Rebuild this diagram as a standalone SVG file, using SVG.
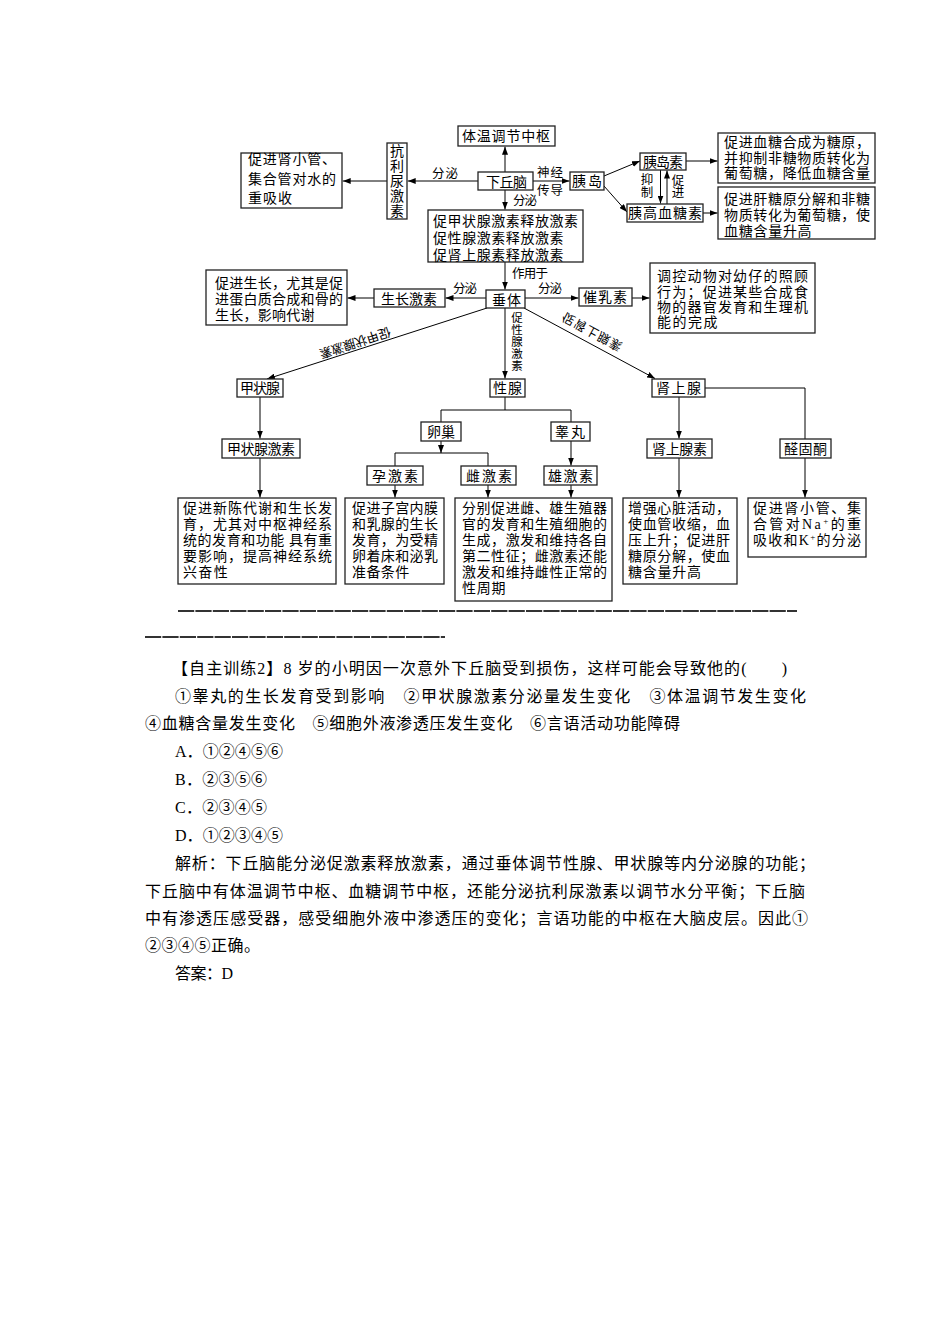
<svg xmlns="http://www.w3.org/2000/svg" width="950" height="1344" viewBox="0 0 950 1344">
<style>
text{font-family:"Liberation Serif","Noto Sans CJK SC",serif;fill:#000}
.t{font-size:14px}
.s{font-size:12.5px}
.v{font-size:11.5px}
.p{font-size:16px}
.q{font-family:"Noto Sans CJK SC",sans-serif}
.b{fill:#fff;stroke:#222;stroke-width:1.3}
.c{fill:none;stroke:#000;stroke-width:1}
.m{text-anchor:middle}
.u{stroke:#333;stroke-width:2;stroke-dasharray:16.2 1.2}
</style>
<defs>
<marker id="a" markerWidth="8" markerHeight="6" refX="8" refY="3" orient="auto" markerUnits="userSpaceOnUse"><path d="M0,0 L8,3 L0,6 z" fill="#000"/></marker>
</defs>
<rect width="950" height="1344" fill="#fff"/>

<g id="connectors">
<path class="c" marker-end="url(#a)" d="M505,172 V146.7"/>
<path class="c" marker-end="url(#a)" d="M478,181 H407.7"/>
<path class="c" marker-end="url(#a)" d="M387,181 H342.7"/>
<path class="c" marker-end="url(#a)" d="M505,190 V209.5"/>
<path class="c" marker-end="url(#a)" d="M533,181 H569.5"/>
<path class="c" marker-end="url(#a)" d="M604,176 L640,161"/>
<path class="c" marker-end="url(#a)" d="M604,186 L627,212"/>
<path class="c" marker-end="url(#a)" d="M660.5,170 V203.5"/>
<path class="c" marker-end="url(#a)" d="M667,204 V170.5"/>
<path class="c" marker-end="url(#a)" d="M686,161 H717.5"/>
<path class="c" marker-end="url(#a)" d="M703,213 H717.5"/>
<path class="c" marker-end="url(#a)" d="M505,262 V289.5"/>
<path class="c" marker-end="url(#a)" d="M486,298 H445.5"/>
<path class="c" marker-end="url(#a)" d="M374,298 H347.5"/>
<path class="c" marker-end="url(#a)" d="M525,298 H578.5"/>
<path class="c" marker-end="url(#a)" d="M632,298 H649.5"/>
<path class="c" marker-end="url(#a)" d="M487,308 L267,379"/>
<path class="c" marker-end="url(#a)" d="M505,308 V378.5"/>
<path class="c" marker-end="url(#a)" d="M524,308 L655,378.5"/>
<path class="c" marker-end="url(#a)" d="M260,397 V438.5"/>
<path class="c" marker-end="url(#a)" d="M260,458 V497.5"/>
<path class="c" d="M505,397 V410 M441,422 V410 H571 V422"/>
<path class="c" marker-end="url(#a)" d="M441,441 V453"/>
<path class="c" d="M395,466 V453 H488 V466"/>
<path class="c" marker-end="url(#a)" d="M571,441 V465.5"/>
<path class="c" marker-end="url(#a)" d="M395,485 V497.5"/>
<path class="c" marker-end="url(#a)" d="M488,485 V497.5"/>
<path class="c" marker-end="url(#a)" d="M571,485 V497.5"/>
<path class="c" marker-end="url(#a)" d="M679,397 V438.5"/>
<path class="c" marker-end="url(#a)" d="M679,458 V497.5"/>
<path class="c" d="M705,388 H805 V439"/>
<path class="c" marker-end="url(#a)" d="M805,458 V497.5"/>
<text class="s" x="432" y="178" textLength="26" lengthAdjust="spacing">分泌</text>
<text class="s" x="513" y="205" textLength="24" lengthAdjust="spacing">分泌</text>
<text class="s" x="537" y="177" textLength="26" lengthAdjust="spacing">神经</text>
<text class="s" x="537" y="195" textLength="26" lengthAdjust="spacing">传导</text>
<text class="s m" x="647" y="184">抑</text>
<text class="s m" x="647" y="197">制</text>
<text class="s m" x="678" y="185">促</text>
<text class="s m" x="678" y="197">进</text>
<text class="s" x="512" y="278" textLength="36" lengthAdjust="spacing">作用于</text>
<text class="s" x="453" y="293" textLength="24" lengthAdjust="spacing">分泌</text>
<text class="s" x="538" y="293" textLength="24" lengthAdjust="spacing">分泌</text>
<text class="v m" x="517" y="322">促</text>
<text class="v m" x="517" y="334">性</text>
<text class="v m" x="517" y="346">腺</text>
<text class="v m" x="517" y="358">激</text>
<text class="v m" x="517" y="370">素</text>
<text class="s m" transform="translate(355,343) rotate(161.6)" y="4.6" textLength="74" lengthAdjust="spacing">促甲状腺激素</text>
<text class="s m" transform="translate(592,332) rotate(28.7) scale(1,-1)" y="4.6" textLength="66" lengthAdjust="spacing">促肾上腺素</text>
</g>

<g id="n-tiwen"><rect class="b" x="458" y="126" width="97" height="20"/><text class="t" x="462" y="141" textLength="88" lengthAdjust="spacing">体温调节中枢</text></g>
<g id="n-xiaqiunao"><rect class="b" x="478" y="172" width="55" height="18"/><text class="t" x="486" y="186.5" textLength="41" lengthAdjust="spacing">下丘脑</text></g>
<g id="n-kangliniao"><rect class="b" x="387" y="143" width="20" height="76"/>
<text class="t m" x="397" y="156">抗</text><text class="t m" x="397" y="171">利</text><text class="t m" x="397" y="186">尿</text><text class="t m" x="397" y="201">激</text><text class="t m" x="397" y="216">素</text></g>
<g id="n-shuifen"><rect class="b" x="241" y="153" width="101" height="55"/>
<text class="t" x="248" y="164" textLength="88" lengthAdjust="spacing">促进肾小管、</text>
<text class="t" x="248" y="183.5" textLength="88" lengthAdjust="spacing">集合管对水的</text>
<text class="t" x="248" y="203" textLength="44" lengthAdjust="spacing">重吸收</text></g>
<g id="n-yidao"><rect class="b" x="570" y="172" width="34" height="18"/><text class="t" x="572" y="185.5" textLength="30" lengthAdjust="spacing">胰岛</text></g>
<g id="n-yidaosu"><rect class="b" x="640" y="153" width="46" height="17"/><text class="t" x="643" y="166.5" textLength="40" lengthAdjust="spacing">胰岛素</text></g>
<g id="n-yigaoxuetangsu"><rect class="b" x="627" y="204" width="76" height="18"/><text class="t" x="628" y="218" textLength="74" lengthAdjust="spacing">胰高血糖素</text></g>
<g id="n-jiangtang"><rect class="b" x="718" y="133" width="157" height="50"/>
<text class="t" x="724" y="147" textLength="146" lengthAdjust="spacing">促进血糖合成为糖原，</text>
<text class="t" x="724" y="162.5" textLength="146" lengthAdjust="spacing">并抑制非糖物质转化为</text>
<text class="t" x="724" y="178" textLength="146" lengthAdjust="spacing">葡萄糖，降低血糖含量</text></g>
<g id="n-shengtang"><rect class="b" x="718" y="187" width="157" height="52"/>
<text class="t" x="724" y="203.5" textLength="146" lengthAdjust="spacing">促进肝糖原分解和非糖</text>
<text class="t" x="724" y="219.5" textLength="146" lengthAdjust="spacing">物质转化为葡萄糖，使</text>
<text class="t" x="724" y="235.5" textLength="87.6" lengthAdjust="spacing">血糖含量升高</text></g>
<g id="n-shifang"><rect class="b" x="428" y="210" width="155" height="52"/>
<text class="t" x="433" y="225.5" textLength="145" lengthAdjust="spacing">促甲状腺激素释放激素</text>
<text class="t" x="433" y="243" textLength="130.5" lengthAdjust="spacing">促性腺激素释放激素</text>
<text class="t" x="433" y="259.5" textLength="130.5" lengthAdjust="spacing">促肾上腺素释放激素</text></g>
<g id="n-chuiti"><rect class="b" x="486" y="290" width="39" height="18"/><text class="t" x="492" y="304.5" textLength="29" lengthAdjust="spacing">垂体</text></g>
<g id="n-shengzhang"><rect class="b" x="374" y="289" width="71" height="18"/><text class="t" x="381" y="303.5" textLength="56" lengthAdjust="spacing">生长激素</text></g>
<g id="n-shengzhangzuoyong"><rect class="b" x="206" y="270" width="141" height="55"/>
<text class="t" x="215" y="288" textLength="128" lengthAdjust="spacing">促进生长，尤其是促</text>
<text class="t" x="215" y="304" textLength="128" lengthAdjust="spacing">进蛋白质合成和骨的</text>
<text class="t" x="215" y="320" textLength="99.5" lengthAdjust="spacing">生长，影响代谢</text></g>
<g id="n-cuirusu"><rect class="b" x="579" y="288" width="53" height="18"/><text class="t" x="583" y="302" textLength="44" lengthAdjust="spacing">催乳素</text></g>
<g id="n-cuiruzuoyong"><rect class="b" x="650" y="263" width="165" height="70"/>
<text class="t" x="657" y="281" textLength="151" lengthAdjust="spacing">调控动物对幼仔的照顾</text>
<text class="t" x="657" y="297" textLength="151" lengthAdjust="spacing">行为；促进某些合成食</text>
<text class="t" x="657" y="312" textLength="151" lengthAdjust="spacing">物的器官发育和生理机</text>
<text class="t" x="657" y="327" textLength="60.4" lengthAdjust="spacing">能的完成</text></g>
<g id="n-jiazhuangxian"><rect class="b" x="237" y="379" width="46" height="18"/><text class="t" x="240" y="393" textLength="40" lengthAdjust="spacing">甲状腺</text></g>
<g id="n-xingxian"><rect class="b" x="490" y="379" width="35" height="18"/><text class="t" x="493" y="393" textLength="29" lengthAdjust="spacing">性腺</text></g>
<g id="n-shenshangxian"><rect class="b" x="652" y="379" width="53" height="18"/><text class="t" x="656" y="393" textLength="45" lengthAdjust="spacing">肾上腺</text></g>
<g id="n-luanchao"><rect class="b" x="421" y="422" width="40" height="19"/><text class="t" x="427" y="437" textLength="28" lengthAdjust="spacing">卵巢</text></g>
<g id="n-gaowan"><rect class="b" x="551" y="422" width="39" height="19"/><text class="t" x="555" y="437" textLength="30" lengthAdjust="spacing">睾丸</text></g>
<g id="n-yunjisu"><rect class="b" x="367" y="466" width="56" height="19"/><text class="t" x="372" y="481" textLength="46" lengthAdjust="spacing">孕激素</text></g>
<g id="n-cijisu"><rect class="b" x="461" y="466" width="55" height="19"/><text class="t" x="466" y="481" textLength="46" lengthAdjust="spacing">雌激素</text></g>
<g id="n-xiongjisu"><rect class="b" x="544" y="466" width="53" height="19"/><text class="t" x="548" y="481" textLength="45" lengthAdjust="spacing">雄激素</text></g>
<g id="n-jiazhuangxianjisu"><rect class="b" x="222" y="439" width="78" height="19"/><text class="t" x="227" y="454" textLength="68" lengthAdjust="spacing">甲状腺激素</text></g>
<g id="n-shenshangxiansu"><rect class="b" x="647" y="439" width="65" height="19"/><text class="t" x="652" y="454" textLength="55" lengthAdjust="spacing">肾上腺素</text></g>
<g id="n-quangutong"><rect class="b" x="780" y="439" width="51" height="19"/><text class="t" x="784" y="454" textLength="43" lengthAdjust="spacing">醛固酮</text></g>
<g id="n-jzxjs-zuoyong"><rect class="b" x="178" y="498" width="158" height="86"/>
<text class="t" x="183" y="513" textLength="149" lengthAdjust="spacing">促进新陈代谢和生长发</text>
<text class="t" x="183" y="529" textLength="149" lengthAdjust="spacing">育，尤其对中枢神经系</text>
<text class="t" x="183" y="545" textLength="149" lengthAdjust="spacing">统的发育和功能 具有重</text>
<text class="t" x="183" y="561" textLength="149" lengthAdjust="spacing">要影响，提高神经系统</text>
<text class="t" x="183" y="577" textLength="44.7" lengthAdjust="spacing">兴奋性</text></g>
<g id="n-yunjisu-zuoyong"><rect class="b" x="345" y="498" width="99" height="86"/>
<text class="t" x="352" y="513" textLength="86" lengthAdjust="spacing">促进子宫内膜</text>
<text class="t" x="352" y="529" textLength="86" lengthAdjust="spacing">和乳腺的生长</text>
<text class="t" x="352" y="545" textLength="86" lengthAdjust="spacing">发育，为受精</text>
<text class="t" x="352" y="561" textLength="86" lengthAdjust="spacing">卵着床和泌乳</text>
<text class="t" x="352" y="577" textLength="57.3" lengthAdjust="spacing">准备条件</text></g>
<g id="n-xingjisu-zuoyong"><rect class="b" x="455" y="498" width="157" height="103"/>
<text class="t" x="462" y="513" textLength="145" lengthAdjust="spacing">分别促进雌、雄生殖器</text>
<text class="t" x="462" y="529" textLength="145" lengthAdjust="spacing">官的发育和生殖细胞的</text>
<text class="t" x="462" y="545" textLength="145" lengthAdjust="spacing">生成，激发和维持各自</text>
<text class="t" x="462" y="561" textLength="145" lengthAdjust="spacing">第二性征；雌激素还能</text>
<text class="t" x="462" y="577" textLength="145" lengthAdjust="spacing">激发和维持雌性正常的</text>
<text class="t" x="462" y="593" textLength="43.5" lengthAdjust="spacing">性周期</text></g>
<g id="n-ssxs-zuoyong"><rect class="b" x="623" y="498" width="114" height="86"/>
<text class="t" x="628" y="513" textLength="102" lengthAdjust="spacing">增强心脏活动，</text>
<text class="t" x="628" y="529" textLength="102" lengthAdjust="spacing">使血管收缩，血</text>
<text class="t" x="628" y="545" textLength="102" lengthAdjust="spacing">压上升；促进肝</text>
<text class="t" x="628" y="561" textLength="102" lengthAdjust="spacing">糖原分解，使血</text>
<text class="t" x="628" y="577" textLength="73" lengthAdjust="spacing">糖含量升高</text></g>
<g id="n-qgt-zuoyong"><rect class="b" x="748" y="498" width="118" height="59"/>
<text class="t" x="753" y="513" textLength="108" lengthAdjust="spacing">促进肾小管、集</text>
<text class="t" x="753" y="529" textLength="108" lengthAdjust="spacing">合管对Na<tspan dy="-5" font-size="9">+</tspan><tspan dy="5">的重</tspan></text>
<text class="t" x="753" y="545" textLength="108" lengthAdjust="spacing">吸收和K<tspan dy="-5" font-size="9">+</tspan><tspan dy="5">的分泌</tspan></text></g>

<line class="u" x1="178" y1="611" x2="797" y2="611"/>
<line class="u" x1="145" y1="637" x2="445" y2="637"/>

<g id="question">
<text class="p" x="172" y="674" textLength="615" lengthAdjust="spacing">【自主训练2】8 岁的小明因一次意外下丘脑受到损伤，这样可能会导致他的(　　)</text>
<text class="p q" x="175" y="702" textLength="631" lengthAdjust="spacing">①睾丸的生长发育受到影响　②甲状腺激素分泌量发生变化　③体温调节发生变化</text>
<text class="p q" x="145" y="729" textLength="535" lengthAdjust="spacing">④血糖含量发生变化　⑤细胞外液渗透压发生变化　⑥言语活动功能障碍</text>
<text class="p" x="175" y="757" textLength="108" lengthAdjust="spacing">A．<tspan class="q">①②④⑤⑥</tspan></text>
<text class="p" x="175" y="785" textLength="92" lengthAdjust="spacing">B．<tspan class="q">②③⑤⑥</tspan></text>
<text class="p" x="175" y="813" textLength="92" lengthAdjust="spacing">C．<tspan class="q">②③④⑤</tspan></text>
<text class="p" x="175" y="841" textLength="108" lengthAdjust="spacing">D．<tspan class="q">①②③④⑤</tspan></text>
<text class="p" x="175" y="869" textLength="640" lengthAdjust="spacing">解析：下丘脑能分泌促激素释放激素，通过垂体调节性腺、甲状腺等内分泌腺的功能；</text>
<text class="p" x="145" y="897" textLength="660" lengthAdjust="spacing">下丘脑中有体温调节中枢、血糖调节中枢，还能分泌抗利尿激素以调节水分平衡；下丘脑</text>
<text class="p" x="145" y="924" textLength="663" lengthAdjust="spacing">中有渗透压感受器，感受细胞外液中渗透压的变化；言语功能的中枢在大脑皮层。因此<tspan class="q">①</tspan></text>
<text class="p q" x="145" y="951" textLength="115" lengthAdjust="spacing">②③④⑤正确。</text>
<text class="p" x="175" y="979" textLength="58" lengthAdjust="spacing">答案：D</text>
</g>
</svg>
